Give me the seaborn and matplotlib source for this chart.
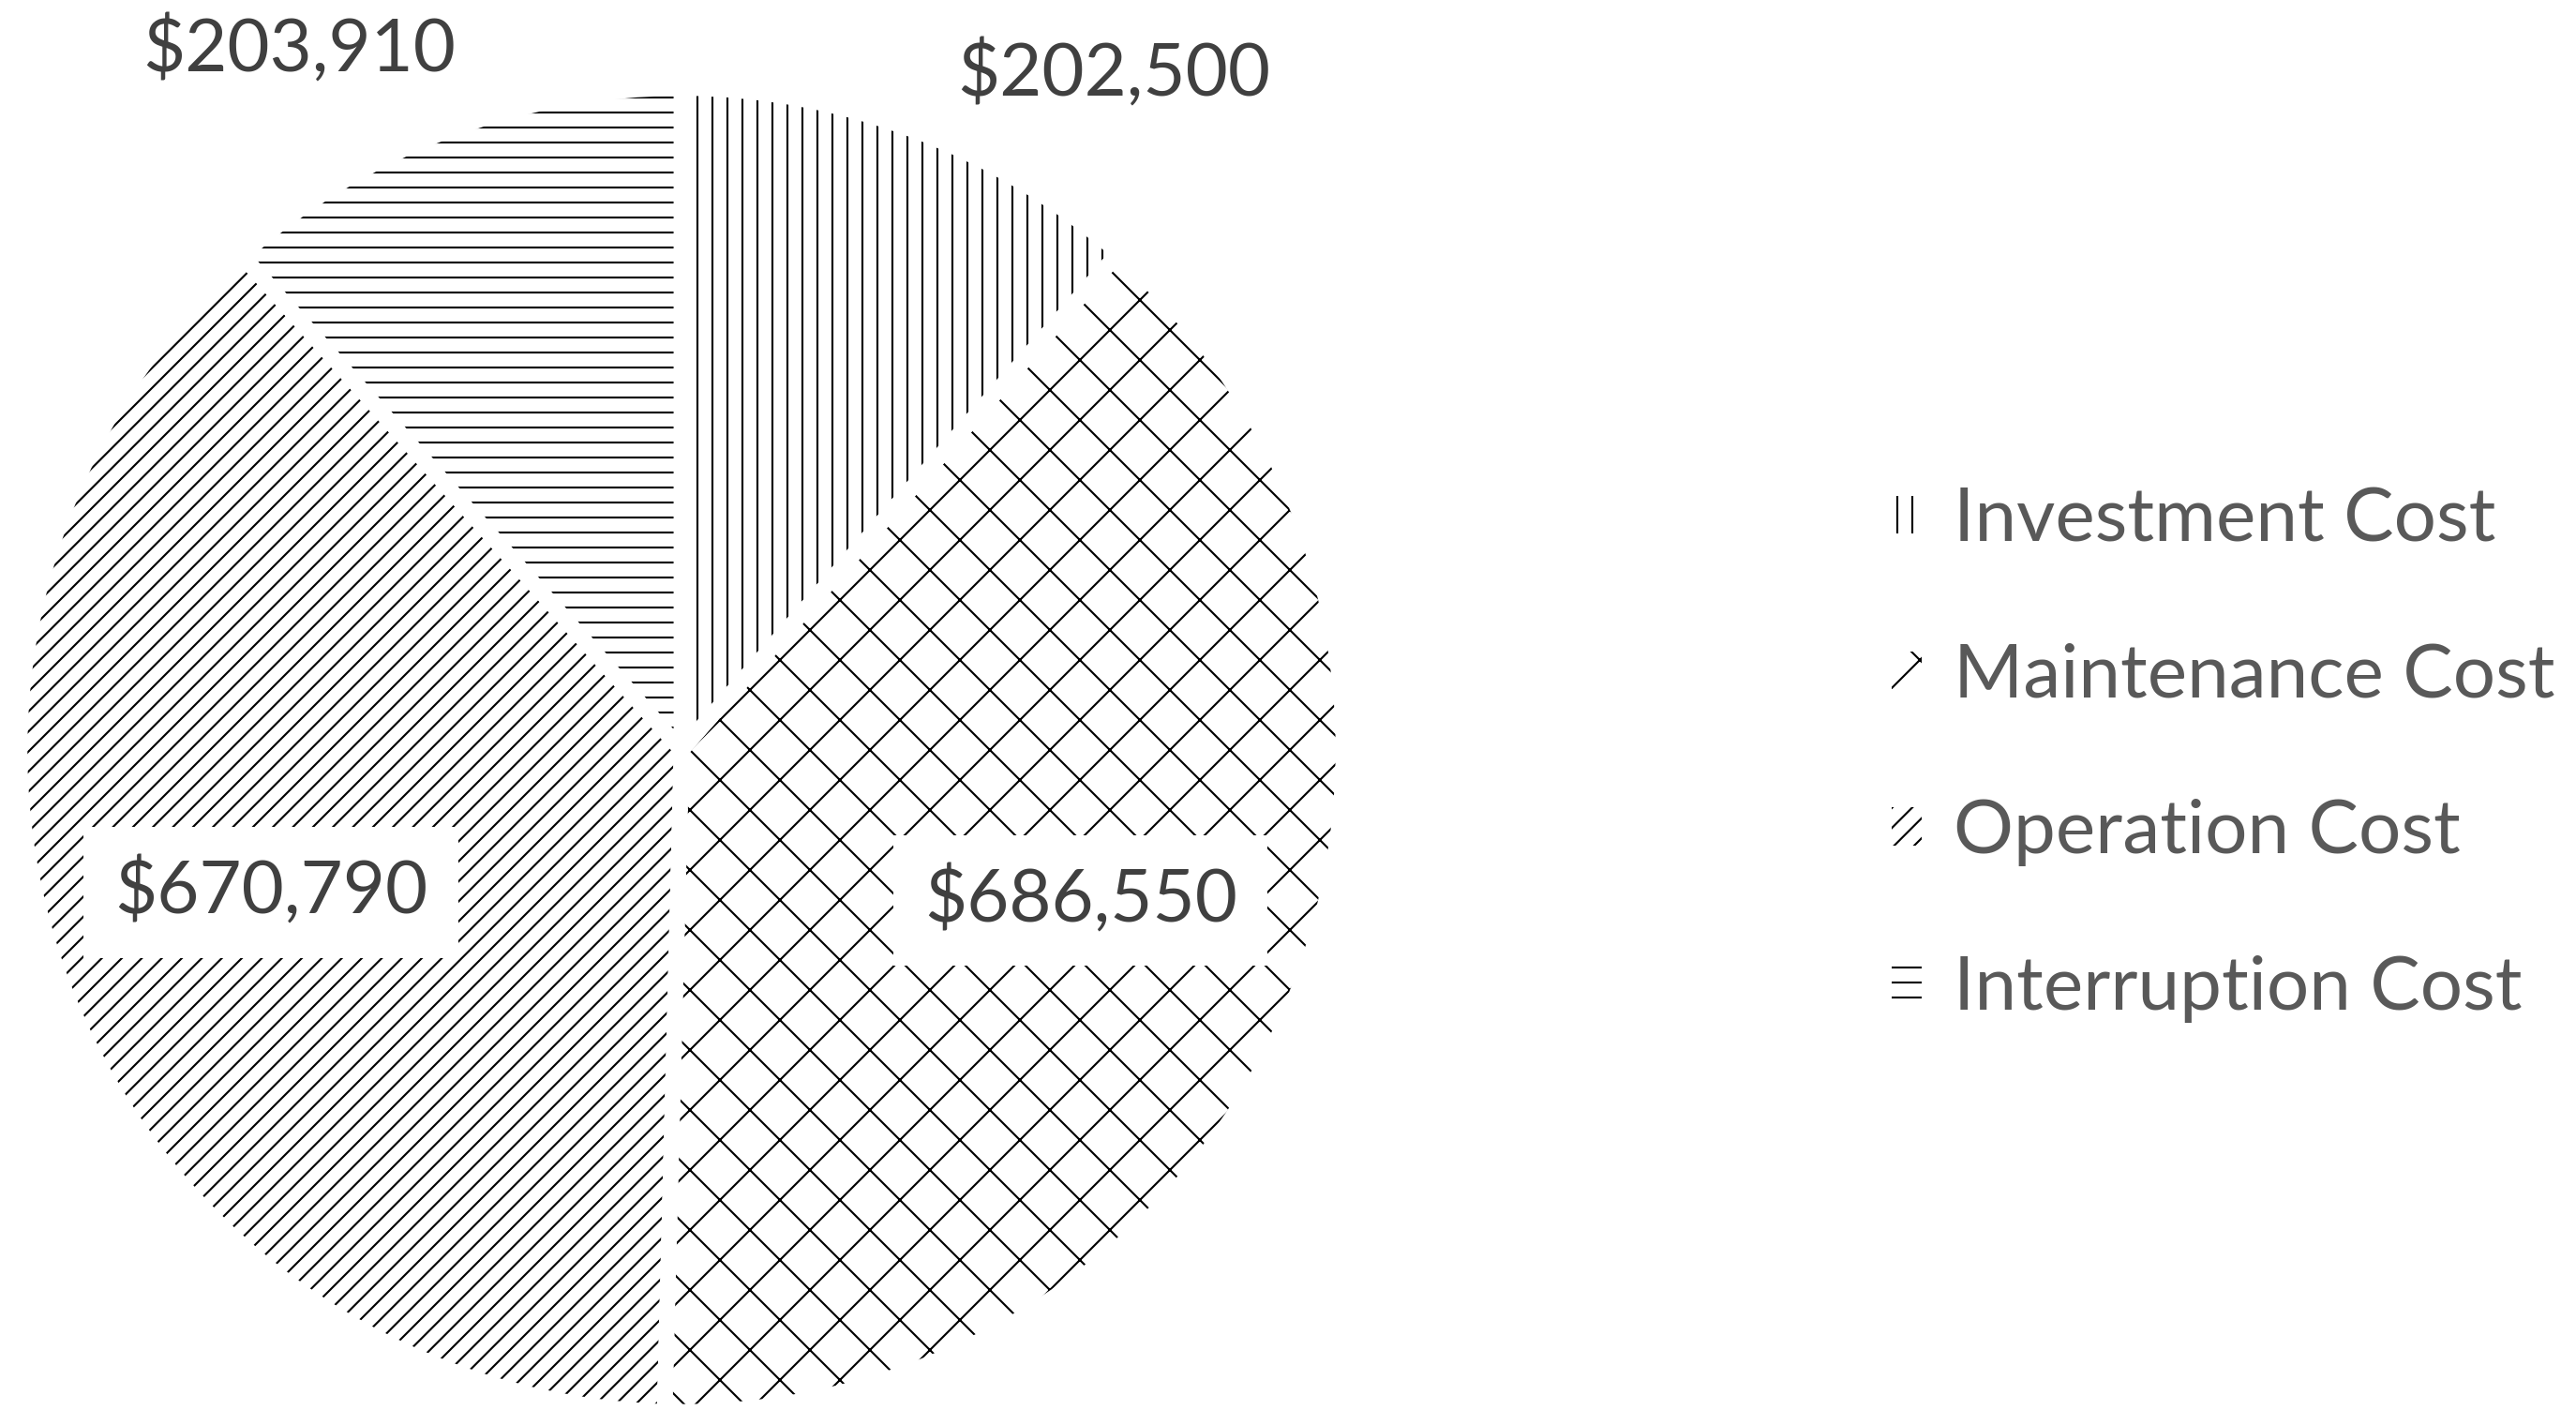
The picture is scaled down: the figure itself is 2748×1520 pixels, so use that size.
import matplotlib
matplotlib.use("Agg")
import matplotlib.pyplot as plt
import seaborn as sns
from matplotlib.patches import Patch

# ---- data ----
categories = ["Investment Cost", "Maintenance Cost", "Operation Cost", "Interruption Cost"]
values = [202500, 686550, 670790, 203910]
value_labels = ["$202,500", "$686,550", "$670,790", "$203,910"]

# ---- style / layout ----
hatches = ["||", "x", "///", "--"]
label_xy = [(0.653, 1.021), (0.603, -0.227), (-0.620, -0.215), (-0.578, 1.058)]
label_boxed = [False, True, True, False]

sns.set_theme(style="white")
plt.rcParams["font.family"] = ["Lato", "DejaVu Sans"]
plt.rcParams["hatch.linewidth"] = 0.8

W, H, DPI = 2748, 1520, 192
fig = plt.figure(figsize=(W / DPI, H / DPI), dpi=DPI)
fig.patch.set_facecolor("white")

cx, cy, R = 727, 800, 706
ax = fig.add_axes([(cx - R) / W, (H - cy - R) / H, 2 * R / W, 2 * R / H])

wedges, _ = ax.pie(values, startangle=90, counterclock=False, radius=1,
                   wedgeprops=dict(facecolor="white", edgecolor="black", linewidth=0))
for w, h in zip(wedges, hatches):
    w.set_hatch(h)
ax.pie(values, startangle=90, counterclock=False, radius=1,
       wedgeprops=dict(facecolor="none", edgecolor="white", linewidth=6.2))
ax.set_xlim(-1, 1)
ax.set_ylim(-1, 1)
ax.set_aspect("equal")
ax.axis("off")

fs = 29.2
for txt, (x, y), boxed in zip(value_labels, label_xy, label_boxed):
    kw = {}
    if boxed:
        kw["bbox"] = dict(boxstyle="square,pad=0.42", facecolor="white", edgecolor="none")
    ax.text(x, y, txt, ha="center", va="center", fontsize=fs, color="#404040",
            clip_on=False, **kw)

lfs = 30
handles = [Patch(facecolor="white", edgecolor="black", linewidth=0, hatch=h) for h in hatches]
fig.legend(handles, categories, loc="center left",
           bbox_to_anchor=(2018 / W, 1 - 805 / H), frameon=False, fontsize=lfs,
           labelspacing=1.18, handlelength=0.4, handleheight=0.4, handletextpad=0.42,
           borderaxespad=0, borderpad=0, labelcolor="#595959")

fig.savefig("out.png", dpi=DPI, facecolor="white")
